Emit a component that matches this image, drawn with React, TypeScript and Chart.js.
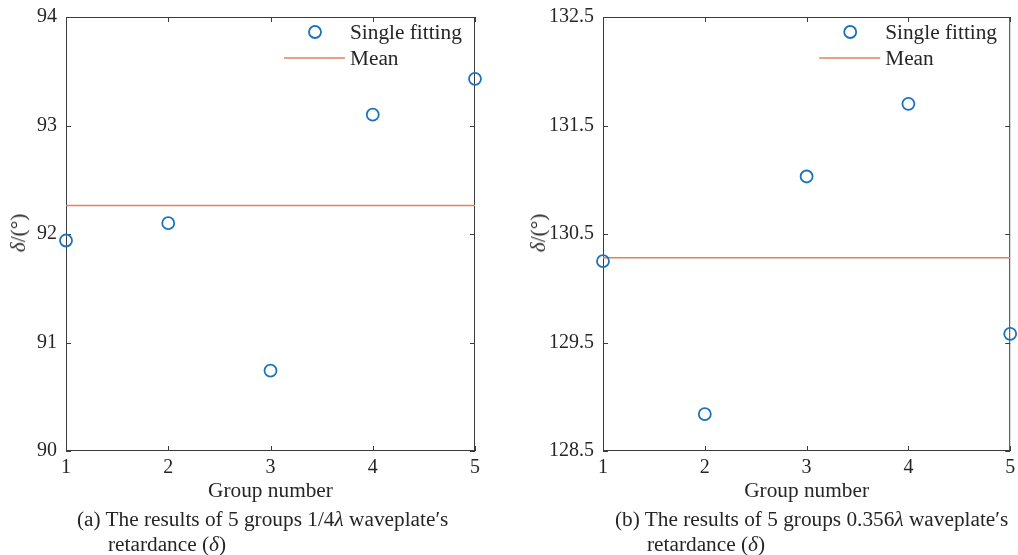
import React, { useEffect, useRef } from "react";
import { Chart, registerables } from "chart.js";

Chart.register(...registerables);

const GROUPS = [1, 2, 3, 4, 5];
const RETARDANCE_A = [91.94, 92.1, 90.74, 93.1, 93.43];
const RETARDANCE_B = [130.25, 128.84, 131.03, 131.7, 129.58];
const X_TICKS = [1, 2, 3, 4, 5];
const Y_TICKS_A = [90, 91, 92, 93, 94];
const Y_TICKS_B = [128.5, 129.5, 130.5, 131.5, 132.5];
const LEGEND_LABELS = ["Single fitting", "Mean"];
const X_TITLE = "Group number";

const FONT = "'Liberation Serif', 'Times New Roman', serif";
const TEXT = "#262626";
const FRAME = "#3c3c3c";
const BLUE = "#1a73bd";
const ORANGE = "#E5805C";
const FS = 20;
const FS2 = 21.3;

const frameTicks = {
  id: "frameTicks",
  beforeDatasetsDraw(chart: any) {
    const { ctx, chartArea, scales } = chart;
    const { left, right, top, bottom } = chartArea;
    ctx.save();
    ctx.strokeStyle = FRAME;
    ctx.lineWidth = 1;
    ctx.strokeRect(left + 0.5, top + 0.5, right - left - 1, bottom - top - 1);
    const tl = 5;
    ctx.beginPath();
    scales.x.ticks.forEach((t: any) => {
      const px = Math.round(scales.x.getPixelForValue(t.value)) + 0.5;
      ctx.moveTo(px, bottom);
      ctx.lineTo(px, bottom - tl);
      ctx.moveTo(px, top);
      ctx.lineTo(px, top + tl);
    });
    scales.y.ticks.forEach((t: any) => {
      const py = Math.round(scales.y.getPixelForValue(t.value)) + 0.5;
      ctx.moveTo(left, py);
      ctx.lineTo(left + tl, py);
      ctx.moveTo(right, py);
      ctx.lineTo(right - tl, py);
    });
    ctx.stroke();
    ctx.restore();
  },
};

const panelLegend = {
  id: "panelLegend",
  afterDatasetsDraw(chart: any) {
    const { ctx, chartArea } = chart;
    const ds = chart.data.datasets;
    const r = chartArea.right;
    const t = chartArea.top;
    ctx.save();
    ctx.strokeStyle = ds[0].borderColor;
    ctx.lineWidth = 1.8;
    ctx.beginPath();
    ctx.arc(r - 160, t + 15, 6, 0, Math.PI * 2);
    ctx.stroke();
    ctx.strokeStyle = ds[1].borderColor;
    ctx.lineWidth = 1.5;
    ctx.beginPath();
    ctx.moveTo(r - 191, t + 41);
    ctx.lineTo(r - 130, t + 41);
    ctx.stroke();
    ctx.fillStyle = TEXT;
    ctx.font = `${FS2}px ${FONT}`;
    ctx.textBaseline = "middle";
    ctx.textAlign = "left";
    ctx.fillText(ds[0].label, r - 125, t + 16);
    ctx.fillText(ds[1].label, r - 125, t + 42);
    ctx.restore();
  },
};

type PanelProps = {
  values: number[];
  yTicks: number[];
  yAxisWidth: number;
  padRight: number;
  canvasLeft: number;
  yLabelX: number;
  captionX: number;
  captionIndent: number;
  captionLine1: React.ReactNode;
  captionLine2: React.ReactNode;
};

const CW = 509;
const CH = 510;

function Panel(p: PanelProps) {
  const ref = useRef<HTMLCanvasElement | null>(null);
  useEffect(() => {
    if (!ref.current) return;
    const mean = p.values.reduce((a, b) => a + b, 0) / p.values.length;
    const chart = new Chart(ref.current, {
      type: "scatter",
      data: {
        datasets: [
          {
            label: LEGEND_LABELS[0],
            data: GROUPS.map((g, i) => ({ x: g, y: p.values[i] })),
            pointStyle: "circle",
            pointRadius: 6,
            pointBorderWidth: 1.8,
            borderColor: BLUE,
            backgroundColor: "rgba(0,0,0,0)",
            showLine: false,
            clip: false,
            order: 1,
          } as any,
          {
            type: "line",
            label: LEGEND_LABELS[1],
            data: [
              { x: GROUPS[0], y: mean },
              { x: GROUPS[GROUPS.length - 1], y: mean },
            ],
            borderColor: ORANGE,
            borderWidth: 1.5,
            pointRadius: 0,
            fill: false,
            order: 2,
          } as any,
        ],
      },
      options: {
        animation: false,
        responsive: false,
        maintainAspectRatio: false,
        events: [],
        layout: { padding: { top: 17, right: p.padRight, left: 0, bottom: 0 } },
        plugins: { legend: { display: false }, tooltip: { enabled: false } },
        scales: {
          x: {
            type: "linear",
            min: X_TICKS[0],
            max: X_TICKS[X_TICKS.length - 1],
            afterBuildTicks: (s: any) => {
              s.ticks = X_TICKS.map((v) => ({ value: v }));
            },
            afterFit: (s: any) => {
              s.height = 59;
              s.paddingLeft = 0;
              s.paddingRight = 0;
            },
            grid: { display: false, drawTicks: false },
            border: { display: false },
            ticks: {
              padding: 5,
              autoSkip: false,
              maxRotation: 0,
              font: { family: FONT, size: FS },
              color: TEXT,
              callback: (v: any) => String(v),
            },
            title: {
              display: true,
              text: X_TITLE,
              font: { family: FONT, size: FS2 },
              color: TEXT,
              padding: { top: 0, bottom: 6 },
            },
          },
          y: {
            type: "linear",
            min: p.yTicks[0],
            max: p.yTicks[p.yTicks.length - 1],
            afterBuildTicks: (s: any) => {
              s.ticks = p.yTicks.map((v) => ({ value: v }));
            },
            afterFit: (s: any) => {
              s.width = p.yAxisWidth;
              s.paddingTop = 0;
              s.paddingBottom = 0;
            },
            grid: { display: false, drawTicks: false },
            border: { display: false },
            ticks: {
              padding: 9,
              autoSkip: false,
              font: { family: FONT, size: FS },
              color: TEXT,
              callback: (v: any) => String(v),
            },
          },
        },
      } as any,
      plugins: [frameTicks, panelLegend],
    });
    return () => chart.destroy();
  }, []);

  return (
    <>
      <canvas
        ref={ref}
        width={CW}
        height={CH}
        style={{ position: "absolute", left: p.canvasLeft, top: 0, width: CW, height: CH }}
      />
      <div
        style={{
          position: "absolute",
          left: p.canvasLeft + p.yLabelX,
          top: 233,
          transform: "translate(-50%, -50%) rotate(-90deg)",
          whiteSpace: "nowrap",
          fontFamily: FONT,
          fontSize: FS2,
          color: TEXT,
          lineHeight: "24px",
        }}
      >
        <i>δ</i>/(°)
      </div>
      <div
        style={{
          position: "absolute",
          left: p.captionX,
          top: 507,
          whiteSpace: "nowrap",
          fontFamily: FONT,
          fontSize: FS2,
          color: TEXT,
          lineHeight: "25px",
        }}
      >
        <div>{p.captionLine1}</div>
        <div style={{ paddingLeft: p.captionIndent }}>{p.captionLine2}</div>
      </div>
    </>
  );
}

export default function App() {
  return (
    <div
      style={{
        position: "fixed",
        left: 0,
        top: 0,
        width: 1018,
        height: 555,
        background: "#fff",
        overflow: "hidden",
      }}
    >
      <Panel
        values={RETARDANCE_A}
        yTicks={Y_TICKS_A}
        yAxisWidth={66}
        padRight={CW - 475}
        canvasLeft={0}
        yLabelX={18}
        captionX={77}
        captionIndent={31}
        captionLine1={
          <>
            (a) The results of 5 groups 1/4<i>λ</i> waveplate′s
          </>
        }
        captionLine2={
          <>
            retardance (<i>δ</i>)
          </>
        }
      />
      <Panel
        values={RETARDANCE_B}
        yTicks={Y_TICKS_B}
        yAxisWidth={603 - CW}
        padRight={1018 - 1012}
        canvasLeft={CW}
        yLabelX={29}
        captionX={615}
        captionIndent={32}
        captionLine1={
          <>
            (b) The results of 5 groups 0.356<i>λ</i> waveplate′s
          </>
        }
        captionLine2={
          <>
            retardance (<i>δ</i>)
          </>
        }
      />
    </div>
  );
}
